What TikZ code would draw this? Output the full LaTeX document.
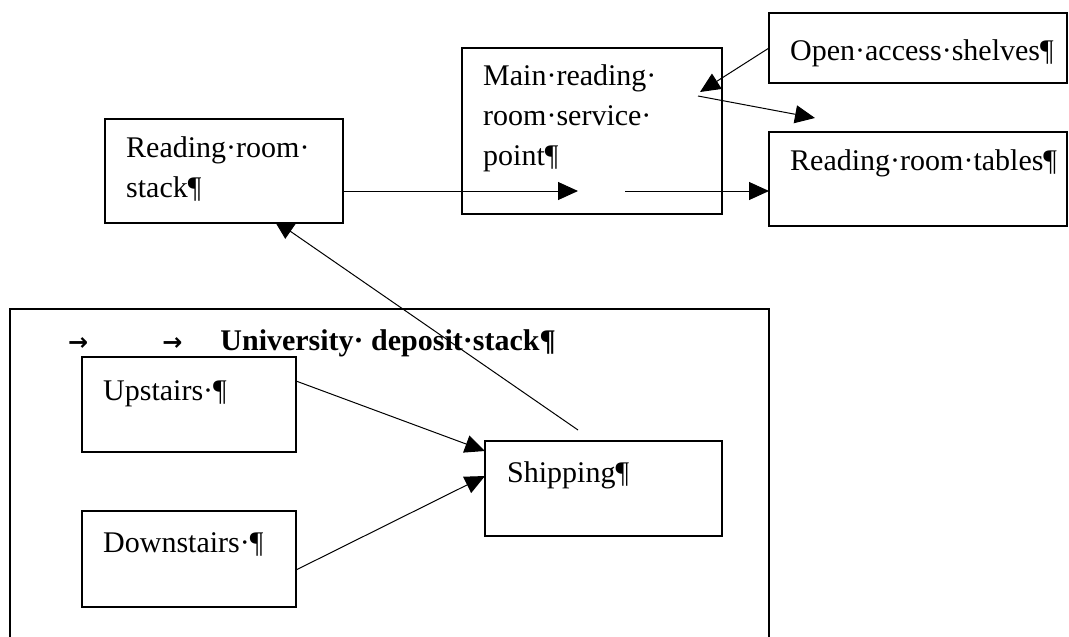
\documentclass[tikz,border=0pt]{standalone}
\usepackage{fontspec}
\setmainfont{Liberation Serif}
\newfontfamily\symfont{DejaVu Sans}
\usetikzlibrary{arrows.meta}
\begin{document}
\begin{tikzpicture}[x=1pt,y=-1pt,
  box/.style={draw, line width=1.3pt, fill=white, inner sep=0pt, outer sep=0pt, anchor=north west},
  txt/.style={font=\fontsize{30}{40}\selectfont, inner sep=0pt, anchor=base west, align=left},
  conn/.style={line width=1pt},
  arr/.style={conn, -{Triangle[length=20pt,width=18pt]}}]
\useasboundingbox[fill=white] (0,0) rectangle (1069,637);

% boxes
\node[box, minimum width=759pt, minimum height=360pt] (dep) at (10,309) {};
\node[box, minimum width=260pt, minimum height=166pt] (main) at (462,48) {};
\node[box, minimum width=298pt, minimum height=70pt] (open) at (769,13) {};
\node[box, minimum width=298pt, minimum height=94pt] (tables) at (769,132) {};
\node[box, minimum width=214pt, minimum height=95pt] (upstairs) at (82,357) {};
\node[box, minimum width=214pt, minimum height=96pt] (downstairs) at (82,511) {};
\node[box, minimum width=237pt, minimum height=95pt] (shipping) at (485,441) {};

% connector endpoints
\coordinate (m1) at (578,191);
\coordinate (m2) at (625,191);
\coordinate (a1) at (700,92);
\coordinate (a2) at (698,96);
\coordinate (a3) at (815,118);
\coordinate (u1) at (296,381);
\coordinate (s1) at (485,451);
\coordinate (d1) at (296,570);
\coordinate (s2) at (485,476);
\coordinate (h1) at (578,430);
\coordinate (h2) at (274,220);

\draw[arr] (h1) -- (h2);
\node[box, minimum width=238pt, minimum height=104pt] (stack) at (105,119) {};

\draw[arr] (stack.east |- m1) -- (m1);
\draw[arr] (m2) -- (m2 -| tables.west);
\draw[arr] (open.west) -- (a1);
\draw[arr] (a2) -- (a3);
\draw[arr] (upstairs.east |- u1) -- (s1);
\draw[arr] (downstairs.east |- d1) -- (s2);

% texts (base anchor of a multi-line node is the last line's baseline)
\node[txt] (tstack) at (126,197) {Reading·room·\\stack¶};
\node[txt] (tmain) at (483,165) {Main·reading·\\room·service·\\point¶};
\node[txt] (topen) at (790,60) {Open·access·shelves¶};
\node[txt] (ttables) at (790,170) {Reading·room·tables¶};
\node[txt] (tdep) at (68,350) {{\symfont\bfseries\fontsize{24}{24}\selectfont →}\hspace{74pt}{\symfont\bfseries\fontsize{24}{24}\selectfont →}\hspace{38pt}\textbf{University· deposit·stack¶}};
\node[txt] (tup) at (103,400) {Upstairs·¶};
\node[txt] (tship) at (507,482) {Shipping¶};
\node[txt] (tdown) at (103,552) {Downstairs·¶};
\end{tikzpicture}
\end{document}
